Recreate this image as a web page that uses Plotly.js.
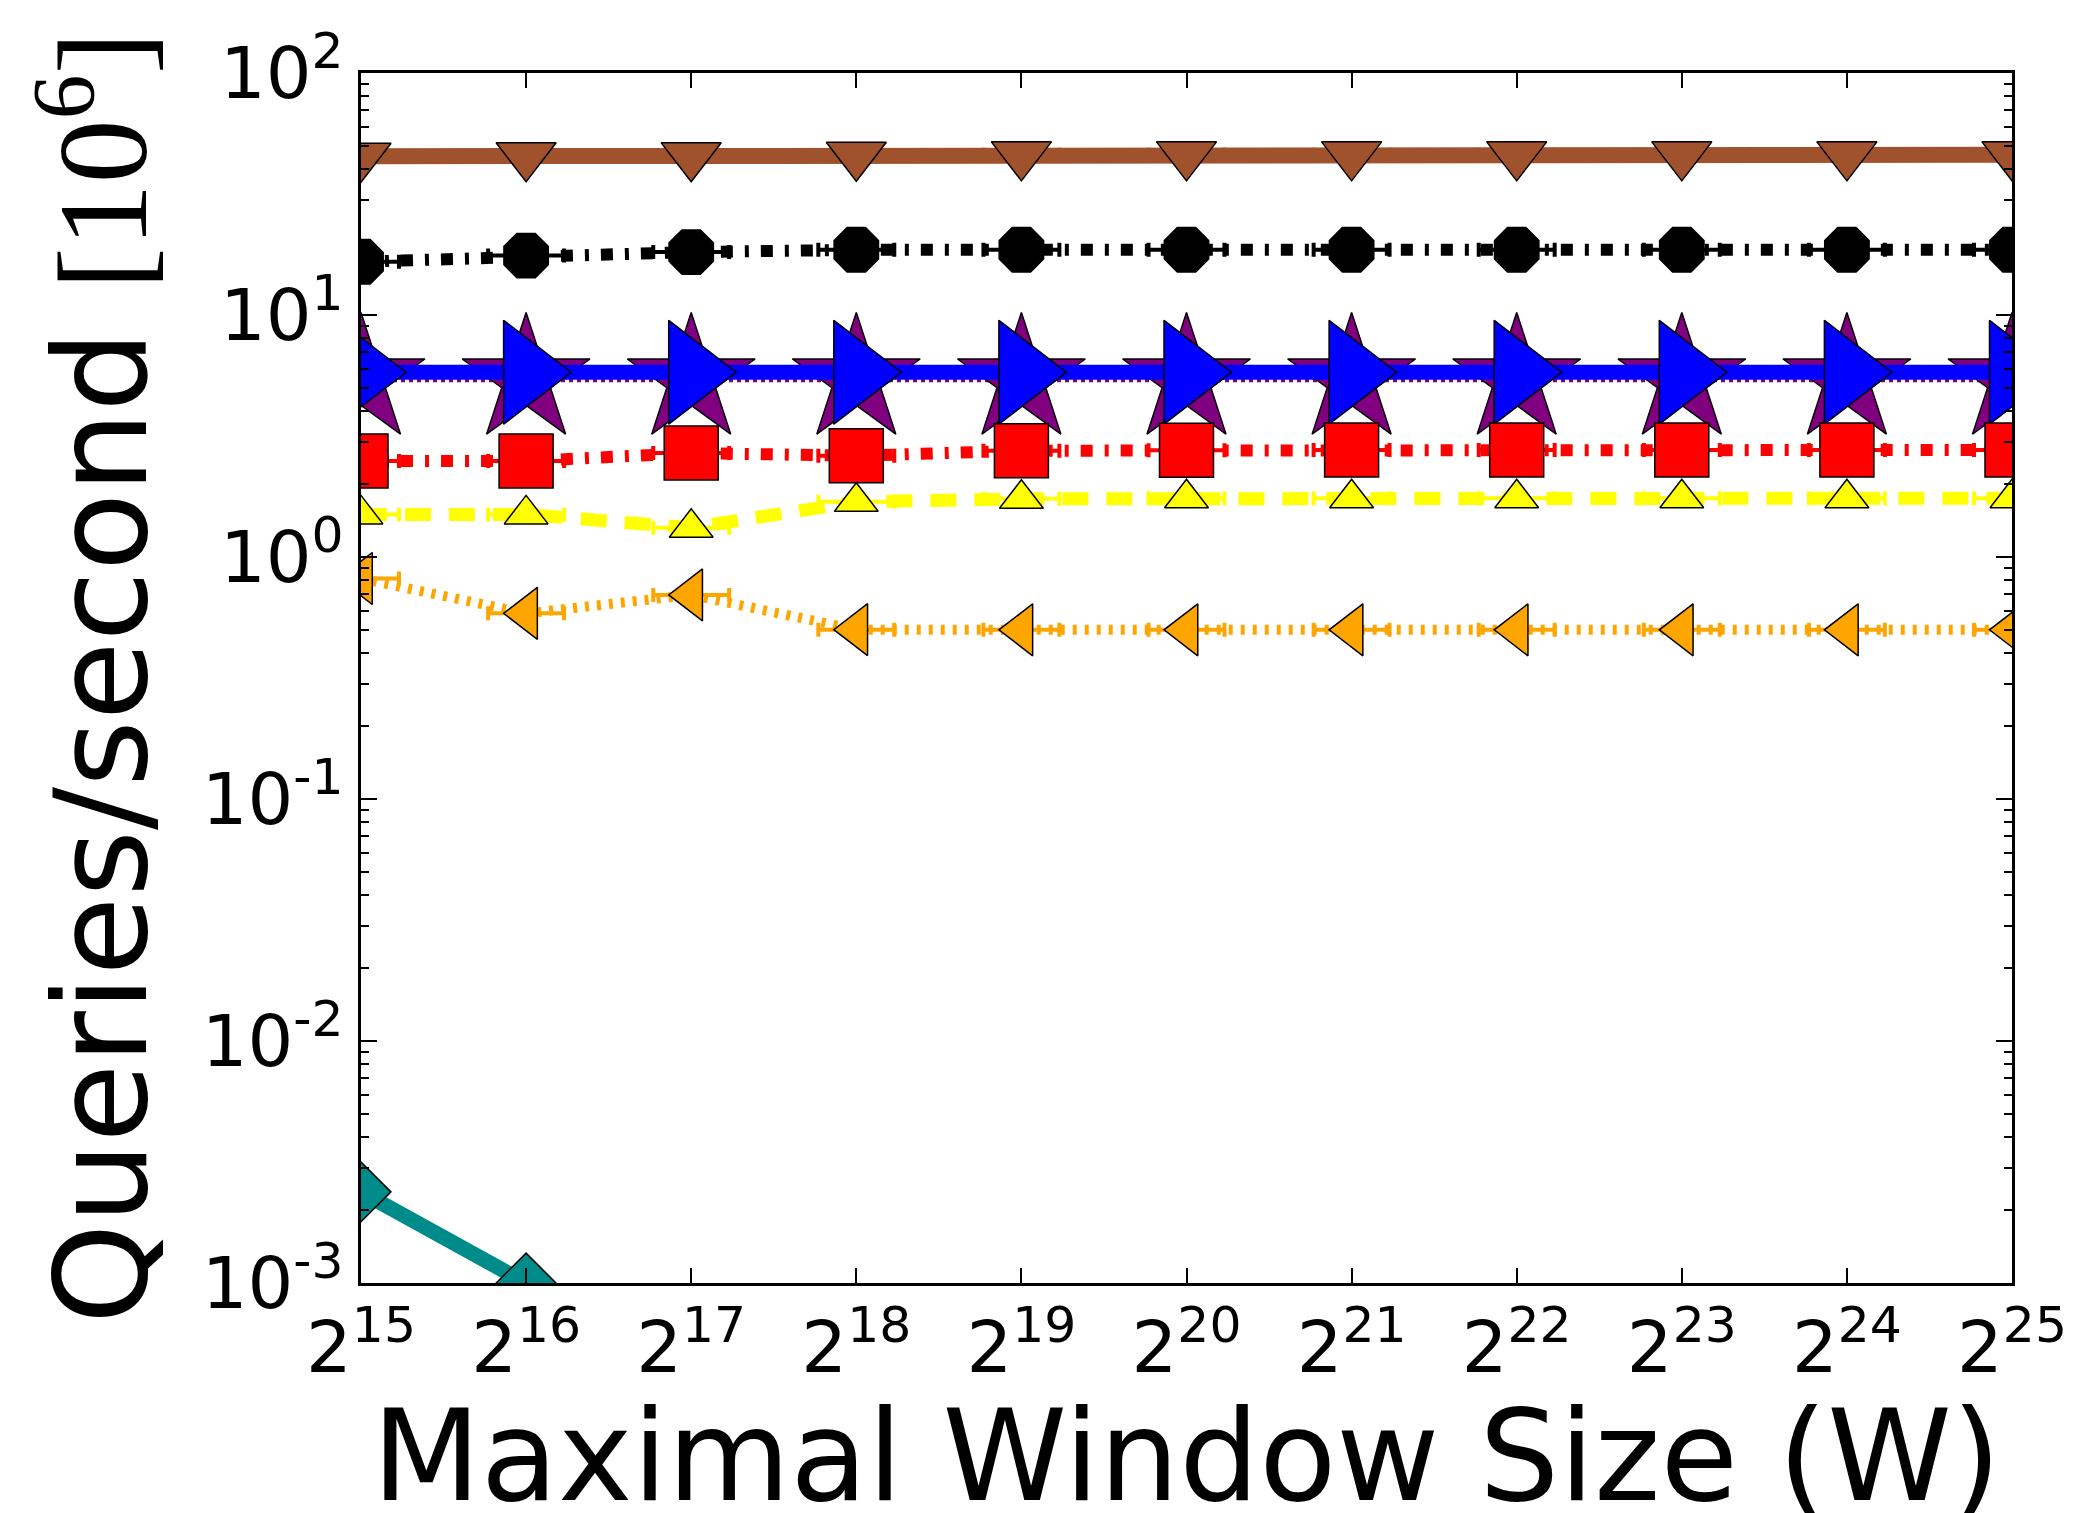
<!DOCTYPE html>
<html>
<head>
<meta charset="utf-8">
<script src="https://cdn.plot.ly/plotly-3.0.1.min.js"></script>
<style>
  html, body { margin: 0; padding: 0; background: #fff; }
  #chart { width: 2080px; height: 1513px; }
</style>
</head>
<body>
<div id="chart"></div>
<script>
// ---- data ----
const windowExp = [15, 16, 17, 18, 19, 20, 21, 22, 23, 24, 25];   // W = 2^exp
const xTickText = ['2<sup>15</sup>', '2<sup>16</sup>', '2<sup>17</sup>', '2<sup>18</sup>', '2<sup>19</sup>',
                   '2<sup>20</sup>', '2<sup>21</sup>', '2<sup>22</sup>', '2<sup>23</sup>', '2<sup>24</sup>', '2<sup>25</sup>'];
const yTickVals = [0.001, 0.01, 0.1, 1, 10, 100];
const yTickText = ['10<sup>-3</sup>', '10<sup>-2</sup>', '10<sup>-1</sup>', '10<sup>0</sup>', '10<sup>1</sup>', '10<sup>2</sup>'];
const xTitle = 'Maximal Window Size (W)';
const yTitle = 'Queries/second <span style="font-family:\'Liberation Serif\'">[10<sup>6</sup>]</span>';

const brownQps  = [45.3, 45.5, 45.5, 45.7, 45.9, 45.9, 45.9, 45.9, 45.9, 45.9, 45.9];
const blackQps  = [16.6, 17.6, 18.2, 18.6, 18.6, 18.6, 18.6, 18.6, 18.6, 18.6, 18.6];
const purpleQps = [5.4, 5.4, 5.4, 5.4, 5.4, 5.4, 5.4, 5.4, 5.4, 5.4, 5.4];
const blueQps   = [5.8, 5.8, 5.8, 5.8, 5.8, 5.8, 5.8, 5.8, 5.8, 5.8, 5.8];
const redQps    = [2.49, 2.49, 2.69, 2.62, 2.75, 2.76, 2.77, 2.77, 2.77, 2.77, 2.77];
const yellowQps = [1.50, 1.50, 1.32, 1.69, 1.74, 1.75, 1.75, 1.75, 1.75, 1.75, 1.75];
const orangeQps = [0.815, 0.585, 0.697, 0.501, 0.50, 0.50, 0.50, 0.50, 0.50, 0.50, 0.50];
const tealExp   = [15, 16];
const tealQps   = [0.00238, 0.001];

// ---- styling helpers ----
function errX(color) {
  return { type: 'constant', value: 0.23, color: color, thickness: 4, width: 7 };
}
function series(x, y, color, lineW, dash, symbol, size, withErr) {
  const t = {
    x: x, y: y, type: 'scatter', mode: 'lines+markers',
    line: { color: color, width: lineW, dash: dash },
    marker: { symbol: symbol, size: size, color: color, line: { color: '#000', width: 1.5 } },
    showlegend: false, hoverinfo: 'skip'
  };
  if (withErr) t.error_x = errX(color);
  return t;
}

const traces = [
  series(windowExp, brownQps,  '#a0522d', 16, 'solid', 'triangle-down', 52, true),
  series(windowExp, blackQps,  '#000000', 12, '12px,12px,4px,12px', 'octagon', 48, true),
  series(windowExp, purpleQps, '#800080', 5,  '4px,4px', 'star', 96, false),
  series(windowExp, blueQps,   '#0000ff', 15, 'solid', 'triangle-right', 90, true),
  series(windowExp, redQps,    '#ff0000', 12, '12px,12px,4px,12px', 'square', 54, true),
  series(windowExp, yellowQps, '#ffff00', 13, '26px,18px', 'triangle-up', 38, true),
  series(windowExp, orangeQps, '#ffa500', 10, '4px,8px', 'triangle-left', 45, true),
  series(tealExp,   tealQps,   '#008b8b', 15, 'solid', 'diamond', 46, false)
];

const layout = {
  width: 2080, height: 1513,
  margin: { l: 361, r: 68, t: 73, b: 230, pad: 0 },
  paper_bgcolor: '#ffffff', plot_bgcolor: '#ffffff',
  font: { family: 'DejaVu Sans, sans-serif', color: '#000' },
  xaxis: {
    type: 'linear', range: [15, 25],
    tickmode: 'array', tickvals: windowExp, ticktext: xTickText,
    ticks: 'inside', ticklen: 15, tickwidth: 2, tickcolor: '#000',
    showline: true, linecolor: '#000', linewidth: 3, mirror: 'allticks',
    showgrid: false, zeroline: false,
    tickfont: { family: 'DejaVu Sans', size: 72, color: '#000' }
  },
  yaxis: {
    type: 'log', range: [-3, 2],
    tickmode: 'array', tickvals: yTickVals, ticktext: yTickText,
    ticks: 'inside', ticklen: 16, tickwidth: 2, tickcolor: '#000',
    minor: { ticks: 'inside', ticklen: 8, tickwidth: 2, tickcolor: '#000', dtick: 'D1', showgrid: false },
    showline: true, linecolor: '#000', linewidth: 3, mirror: 'allticks',
    showgrid: false, zeroline: false,
    tickfont: { family: 'DejaVu Sans', size: 72, color: '#000' },
    title: { text: yTitle, font: { family: 'DejaVu Sans', size: 128, color: '#000' }, standoff: 12 }
  },
  annotations: [{
    text: xTitle, xref: 'paper', yref: 'paper', x: 0.5, y: -0.143,
    xanchor: 'center', yanchor: 'middle', showarrow: false,
    font: { family: 'DejaVu Sans', size: 126, color: '#000' }
  }]
};

Plotly.newPlot('chart', traces, layout, { staticPlot: true, displayModeBar: false });
</script>
</body>
</html>
